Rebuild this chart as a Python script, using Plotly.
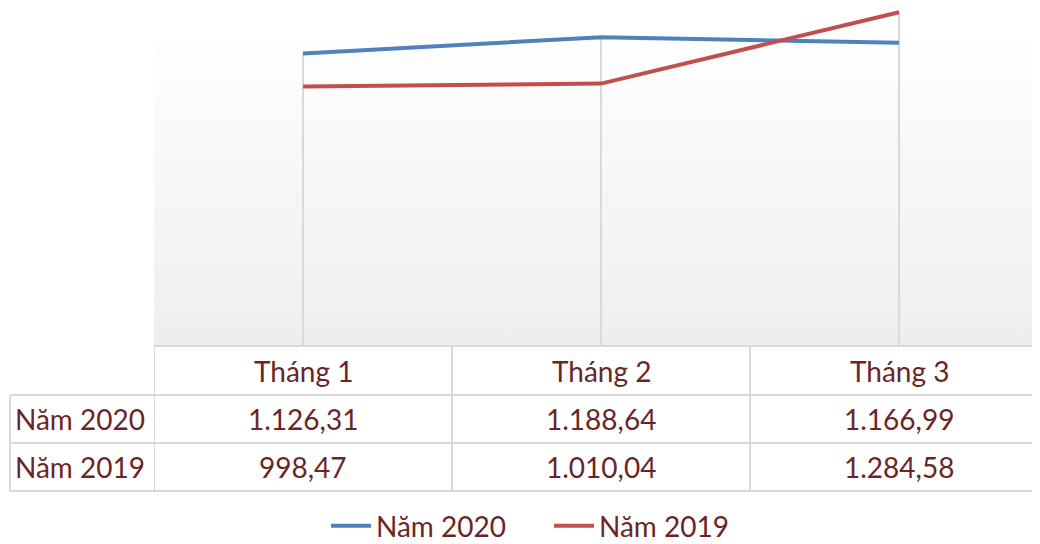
import base64
import plotly.graph_objects as go

categories = ["Tháng 1", "Tháng 2", "Tháng 3"]
series_names = ["Năm 2020", "Năm 2019"]
values_2020 = [1126.31, 1188.64, 1166.99]
values_2019 = [998.47, 1010.04, 1284.58]
series_colors = ["#4f81bd", "#c0504d"]

TEXT = "#6a2626"
FONT = "Lato"
GRID = "#d9d9d9"

OFF = 8  # page body margin
W, H = 1040 - OFF, 544 - OFF
ML, MT = 154 - OFF, 0
PLOT_BOTTOM = 346 - OFF
MB = H - PLOT_BOTTOM
PLOT_H = PLOT_BOTTOM - MT
PLOT_W = W - ML


def py(ref_px):
    """reference pixel row -> paper y"""
    return (PLOT_BOTTOM - (ref_px - OFF)) / PLOT_H


def px_x(ref_px):
    """reference pixel column -> paper x"""
    return (ref_px - OFF - ML) / PLOT_W


def vn_fmt(v):
    s = f"{v:,.2f}"
    return s.replace(",", "X").replace(".", ",").replace("X", ".")


fig = go.Figure()

# drop lines (from highest point down to axis)
dx, dy = [], []
for i, c in enumerate(categories):
    top = max(values_2020[i], values_2019[i])
    dx += [c, c, None]
    dy += [top, 0, None]
fig.add_trace(go.Scatter(x=dx, y=dy, mode="lines", line=dict(color=GRID, width=2),
                         hoverinfo="skip", showlegend=False))

for name, vals, col in zip(series_names, [values_2020, values_2019], series_colors):
    fig.add_trace(go.Scatter(x=categories, y=vals, mode="lines", name=name,
                             line=dict(color=col, width=4)))

# gradient background of plot area
svg = ('<svg xmlns="http://www.w3.org/2000/svg" width="10" height="100" preserveAspectRatio="none">'
       '<defs><linearGradient id="g" x1="0" y1="0" x2="0" y2="1">'
       '<stop offset="0" stop-color="#ffffff"/><stop offset="1" stop-color="#eeeeee"/>'
       '</linearGradient></defs><rect width="10" height="100" fill="url(#g)"/></svg>')
src = "data:image/svg+xml;base64," + base64.b64encode(svg.encode()).decode()
top_y = py(29)
fig.add_layout_image(dict(source=src, xref="paper", yref="paper", x=0, y=top_y,
                          sizex=1.02, sizey=top_y, sizing="stretch", layer="below",
                          xanchor="left", yanchor="top"))

# data table
rows_px = [346, 395, 443, 491]
left_x = px_x(10)
shapes = [dict(type="line", xref="x", yref="paper", x0=-0.5, x1=2.6,
               y0=py(rows_px[0]), y1=py(rows_px[0]))]
for r in rows_px[1:]:
    shapes.append(dict(type="line", xref="paper", yref="paper", x0=left_x, x1=1.05,
                       y0=py(r), y1=py(r)))
shapes.append(dict(type="line", xref="paper", yref="paper", x0=left_x, x1=left_x,
                   y0=py(rows_px[1]), y1=py(rows_px[3])))
for b in [-0.5, 0.5, 1.5]:
    shapes.append(dict(type="line", xref="x", yref="paper", x0=b, x1=b,
                       y0=py(rows_px[0]), y1=py(rows_px[3])))
for s in shapes:
    s["line"] = dict(color=GRID, width=2)
fig.update_layout(shapes=shapes)

ann = []
tf = dict(family=FONT, size=28, color=TEXT)
for c in categories:
    ann.append(dict(x=c, y=py((rows_px[0] + rows_px[1]) / 2), xref="x", yref="paper",
                    text=c, showarrow=False, font=tf, xanchor="center", yanchor="middle"))
for ri, (name, vals) in enumerate(zip(series_names, [values_2020, values_2019])):
    yc = py((rows_px[ri + 1] + rows_px[ri + 2]) / 2)
    ann.append(dict(x=px_x(80), y=yc, xref="paper", yref="paper", text=name,
                    showarrow=False, font=tf, xanchor="center", yanchor="middle"))
    for c, v in zip(categories, vals):
        ann.append(dict(x=c, y=yc, xref="x", yref="paper", text=vn_fmt(v),
                        showarrow=False, font=tf, xanchor="center", yanchor="middle"))
fig.update_layout(annotations=ann)

fig.update_layout(
    width=W, height=H,
    margin=dict(l=ML, r=0, t=MT, b=MB),
    paper_bgcolor="white", plot_bgcolor="rgba(0,0,0,0)",
    font=dict(family=FONT, size=28, color=TEXT),
    xaxis=dict(type="category", range=[-0.5, 2.473], showgrid=False, zeroline=False,
               showticklabels=False, showline=False, ticks=""),
    yaxis=dict(range=[0, 1301], showgrid=False, zeroline=False, showticklabels=False,
               showline=False, ticks=""),
    legend=dict(orientation="h", xref="container", yref="container",
                x=(549 - OFF) / W, y=(544 - 526) / H,
                xanchor="center", yanchor="middle", font=dict(family=FONT, size=28, color=TEXT),
                itemwidth=40, entrywidth=168, bgcolor="rgba(0,0,0,0)"),
    showlegend=True,
)

fig.write_html("out.html")
